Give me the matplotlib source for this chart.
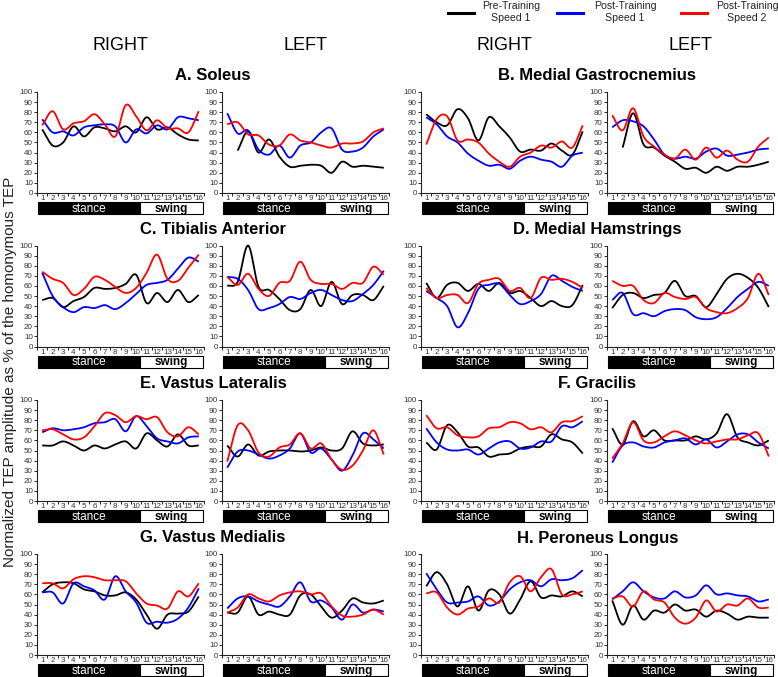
import numpy as np
import matplotlib.pyplot as plt
from matplotlib.patches import Rectangle
from matplotlib.lines import Line2D

plt.rcParams['font.family'] = ['Liberation Sans', 'DejaVu Sans']

nan = np.nan
points = list(range(1, 17))

# A. Soleus
sol_r_pre = [63, 47, 50, 66, 56, 65, 64, 61, 66, 60, 75, 63, 65, 58, 53, 52]
sol_r_post1 = [73, 60, 61, 57, 65, 67, 68, 66, 50, 63, 59, 67, 63, 75, 74, 72]
sol_r_post2 = [67, 81, 63, 69, 71, 78, 68, 56, 87, 76, 62, 72, 64, 64, 60, 81]
sol_l_pre = [nan, 42, 61, 40, 53, 36, 26, 27, 28, 27, 20, 31, 26, 27, 26, 25]
sol_l_post1 = [79, 59, 62, 43, 38, 47, 35, 47, 50, 60, 64, 43, 41, 45, 56, 63]
sol_l_post2 = [68, 70, 58, 57, 48, 47, 58, 52, 50, 47, 45, 49, 49, 51, 60, 64]

# B. Medial Gastrocnemius
mg_r_pre = [78, 70, 67, 83, 74, 52, 75, 66, 55, 41, 43, 42, 49, 42, 38, 61]
mg_r_post1 = [75, 68, 56, 50, 39, 32, 27, 28, 24, 32, 36, 33, 31, 26, 37, 40]
mg_r_post2 = [48, 73, 76, 52, 53, 50, 39, 31, 26, 36, 40, 47, 45, 51, 45, 67]
mg_l_pre = [nan, 45, 79, 48, 45, 37, 31, 24, 25, 20, 26, 22, 26, 26, 28, 31]
mg_l_post1 = [65, 72, 71, 66, 53, 38, 34, 36, 34, 41, 44, 37, 38, 40, 43, 44]
mg_l_post2 = [77, 62, 84, 56, 46, 38, 34, 43, 33, 45, 35, 42, 33, 31, 46, 55]

# C. Tibialis Anterior
ta_r_pre = [46, 48, 39, 45, 49, 58, 57, 58, 62, 71, 43, 53, 44, 56, 44, 51]
ta_r_post1 = [73, 50, 39, 34, 39, 38, 41, 37, 43, 52, 61, 63, 66, 77, 88, 84]
ta_r_post2 = [74, 67, 63, 51, 57, 69, 66, 59, 53, 58, 73, 91, 67, 65, 78, 91]
ta_l_pre = [60, 64, 100, 59, 56, 47, 36, 37, 56, 40, 64, 42, 51, 51, 46, 60]
ta_l_post1 = [69, 67, 56, 37, 38, 42, 49, 47, 53, 56, 51, 46, 45, 52, 61, 75]
ta_l_post2 = [69, 61, 72, 57, 50, 63, 65, 84, 66, 62, 62, 57, 63, 63, 79, 71]

# D. Medial Hamstrings
mh_r_pre = [63, 48, 61, 63, 55, 62, 55, 63, 53, 55, 48, 40, 45, 40, 41, 61]
mh_r_post1 = [55, 48, 40, 19, 33, 57, 61, 62, 51, 42, 45, 52, 70, 65, 59, 55]
mh_r_post2 = [58, 48, 51, 51, 43, 62, 66, 67, 55, 58, 48, 68, 66, 67, 64, 58]
mh_l_pre = [38, 51, 53, 48, 51, 53, 65, 50, 50, 39, 52, 67, 72, 68, 58, 39]
mh_l_post1 = [46, 53, 32, 33, 30, 35, 37, 36, 29, 27, 29, 38, 49, 57, 64, 60]
mh_l_post2 = [65, 60, 60, 46, 43, 53, 49, 47, 49, 38, 34, 33, 38, 48, 72, 51]

# E. Vastus Lateralis
vl_r_pre = [55, 55, 59, 55, 50, 55, 52, 56, 59, 52, 67, 60, 54, 66, 55, 55]
vl_r_post1 = [68, 72, 70, 71, 73, 77, 78, 81, 69, 84, 74, 62, 59, 57, 63, 64]
vl_r_post2 = [70, 71, 66, 61, 63, 74, 87, 85, 78, 84, 81, 83, 68, 64, 73, 66]
vl_l_pre = [55, 44, 56, 45, 49, 50, 50, 49, 50, 53, 50, 52, 69, 57, 55, 56]
vl_l_post1 = [33, 49, 50, 46, 42, 45, 52, 67, 48, 52, 41, 30, 45, 67, 61, 52]
vl_l_post2 = [39, 75, 70, 48, 44, 53, 56, 67, 52, 57, 41, 31, 35, 50, 70, 46]

# F. Gracilis
gr_r_pre = [58, 51, 75, 68, 54, 53, 44, 46, 47, 52, 54, 54, 66, 61, 58, 47]
gr_r_post1 = [72, 58, 51, 50, 51, 46, 52, 58, 59, 52, 53, 59, 59, 74, 73, 79]
gr_r_post2 = [85, 72, 73, 65, 63, 64, 72, 73, 78, 77, 71, 73, 68, 78, 79, 84]
gr_l_pre = [72, 56, 79, 64, 70, 60, 60, 60, 64, 61, 67, 86, 63, 58, 55, 60]
gr_l_post1 = [38, 55, 58, 54, 53, 58, 60, 62, 56, 61, 53, 59, 66, 66, 58, 52]
gr_l_post2 = [42, 57, 78, 60, 58, 64, 69, 65, 60, 57, 59, 61, 61, 65, 67, 44]

# G. Vastus Medialis
vm_r_pre = [62, 70, 72, 71, 65, 63, 59, 59, 62, 55, 40, 26, 40, 41, 43, 58]
vm_r_post1 = [62, 62, 51, 71, 68, 64, 55, 78, 63, 52, 32, 33, 32, 36, 47, 66]
vm_r_post2 = [71, 71, 66, 75, 78, 77, 74, 74, 73, 61, 51, 49, 46, 63, 58, 71]
vm_l_pre = [42, 42, 58, 40, 43, 40, 40, 59, 60, 48, 37, 44, 56, 52, 51, 54]
vm_l_post1 = [46, 56, 58, 53, 50, 48, 58, 72, 53, 54, 47, 35, 50, 42, 45, 43]
vm_l_post2 = [42, 47, 60, 56, 53, 59, 62, 63, 60, 61, 48, 39, 38, 40, 45, 40]

# H. Peroneus Longus
pl_r_pre = [68, 82, 70, 48, 68, 44, 64, 60, 41, 55, 73, 57, 59, 58, 63, 58]
pl_r_post1 = [81, 65, 52, 52, 53, 58, 49, 53, 65, 72, 74, 68, 75, 74, 76, 84]
pl_r_post2 = [61, 62, 47, 40, 46, 48, 56, 52, 72, 78, 63, 77, 85, 60, 60, 63]
pl_l_pre = [54, 30, 49, 35, 44, 42, 50, 44, 45, 38, 44, 41, 35, 38, 37, 37]
pl_l_post1 = [55, 63, 72, 63, 57, 56, 63, 57, 59, 69, 60, 61, 59, 58, 53, 55]
pl_l_post2 = [56, 58, 48, 63, 55, 52, 37, 31, 37, 54, 43, 50, 49, 56, 47, 47]

titles = ['A. Soleus', 'B. Medial Gastrocnemius', 'C. Tibialis Anterior',
          'D. Medial Hamstrings', 'E. Vastus Lateralis', 'F. Gracilis',
          'G. Vastus Medialis', 'H. Peroneus Longus']
labels = ['Pre-Training\nSpeed 1', 'Post-Training\nSpeed 1', 'Post-Training\nSpeed 2']
colors = ['black', '#0000ff', '#ff0000']

panels = [
    [(sol_r_pre, sol_r_post1, sol_r_post2), (sol_l_pre, sol_l_post1, sol_l_post2)],
    [(mg_r_pre, mg_r_post1, mg_r_post2), (mg_l_pre, mg_l_post1, mg_l_post2)],
    [(ta_r_pre, ta_r_post1, ta_r_post2), (ta_l_pre, ta_l_post1, ta_l_post2)],
    [(mh_r_pre, mh_r_post1, mh_r_post2), (mh_l_pre, mh_l_post1, mh_l_post2)],
    [(vl_r_pre, vl_r_post1, vl_r_post2), (vl_l_pre, vl_l_post1, vl_l_post2)],
    [(gr_r_pre, gr_r_post1, gr_r_post2), (gr_l_pre, gr_l_post1, gr_l_post2)],
    [(vm_r_pre, vm_r_post1, vm_r_post2), (vm_l_pre, vm_l_post1, vm_l_post2)],
    [(pl_r_pre, pl_r_post1, pl_r_post2), (pl_l_pre, pl_l_post1, pl_l_post2)],
]


def smooth(x, y, n=12):
    # cubic hermite through the points, like excel's smoothed lines
    x = np.asarray(x, float)
    y = np.asarray(y, float)
    ok = ~np.isnan(y)
    x, y = x[ok], y[ok]
    m = np.gradient(y, x)
    t = np.linspace(0, 1, n, endpoint=False)
    h00 = 2 * t**3 - 3 * t**2 + 1
    h10 = t**3 - 2 * t**2 + t
    h01 = -2 * t**3 + 3 * t**2
    h11 = t**3 - t**2
    xs, ys = [], []
    for i in range(len(x) - 1):
        h = x[i + 1] - x[i]
        xs.append(x[i] + t * h)
        ys.append(h00 * y[i] + h10 * h * m[i] + h01 * y[i + 1] + h11 * h * m[i + 1])
    xs.append([x[-1]])
    ys.append([y[-1]])
    return np.concatenate(xs), np.concatenate(ys)


W, H = 778, 677
fig = plt.figure(figsize=(W / 100, H / 100), dpi=100)

col_x = [37, 222, 421, 607]
row_y = [92, 245.5, 400, 554]
AW, AH = 167, 101


def add_panel(col, row, lines):
    left, top = col_x[col], row_y[row]
    ax = fig.add_axes([left / W, 1 - (top + AH) / H, AW / W, AH / H])
    for vals, c in zip(lines, colors):
        xs, ys = smooth(points, vals)
        ax.plot(xs, ys, color=c, lw=1.3, clip_on=False, solid_capstyle='butt')
    ax.set_xlim(0.55, 16.4)
    ax.set_ylim(0, 100)
    ax.spines['top'].set_visible(False)
    ax.spines['right'].set_visible(False)
    for s in ('left', 'bottom'):
        ax.spines[s].set_linewidth(0.8)
        ax.spines[s].set_color('#222222')
    ax.set_yticks(range(0, 101, 10))
    ax.set_xticks(points)
    ax.set_xticks(np.arange(0.5, 16.6, 1), minor=True)
    ax.tick_params(axis='y', labelsize=5.8, labelcolor='#333333', length=2, width=0.6, pad=1)
    ax.tick_params(axis='x', which='major', labelsize=5.8, labelcolor='#333333', length=0, pad=1.5)
    ax.tick_params(axis='x', which='minor', length=2, width=0.6)

    # stance / swing bar
    bar = fig.add_axes([(left + 1) / W, 1 - (top + AH + 21) / H, (AW - 2) / W, 12 / H])
    bar.set_xlim(0, 1)
    bar.set_ylim(0, 1)
    bar.axis('off')
    bar.add_patch(Rectangle((0, 0), 0.62, 1, fc='black', ec='black', lw=0.8, clip_on=False))
    bar.add_patch(Rectangle((0.62, 0), 0.38, 1, fc='white', ec='black', lw=0.8, clip_on=False))
    bar.text(0.31, 0.45, 'stance', color='white', ha='center', va='center', fontsize=8.5)
    bar.text(0.81, 0.45, 'swing', color='black', ha='center', va='center', fontsize=8.5,
             fontweight='bold')


for k, (right, left) in enumerate(panels):
    row, grp = k // 2, k % 2
    add_panel(grp * 2, row, right)
    add_panel(grp * 2 + 1, row, left)
    cx = (col_x[grp * 2] + col_x[grp * 2 + 1] + AW) / 2
    fig.text(cx / W, 1 - (row_y[row] - 16) / H, titles[k], ha='center', va='center',
             fontsize=12, fontweight='bold')

for c in range(4):
    fig.text((col_x[c] + AW / 2) / W, 1 - 46 / H, 'LEFT' if c % 2 else 'RIGHT',
             ha='center', va='center', fontsize=13)

# legend
leg_x = [448, 557, 681]
text_x = [511, 625, 747]
for lx, tx, lab, c in zip(leg_x, text_x, labels, colors):
    fig.add_artist(Line2D([lx / W, (lx + 26) / W], [1 - 12.5 / H] * 2, color=c, lw=2.2,
                          transform=fig.transFigure))
    fig.text(tx / W, 1 - 12 / H, lab, ha='center', va='center', fontsize=7.6,
             color='#222222', linespacing=1.15)

fig.text(10 / W, 1 - 372 / H, 'Normalized TEP amplitude as % of the homonymous TEP',
         rotation=90, ha='center', va='center', fontsize=11, color='#222222')

fig.savefig('out.png', dpi=100)
